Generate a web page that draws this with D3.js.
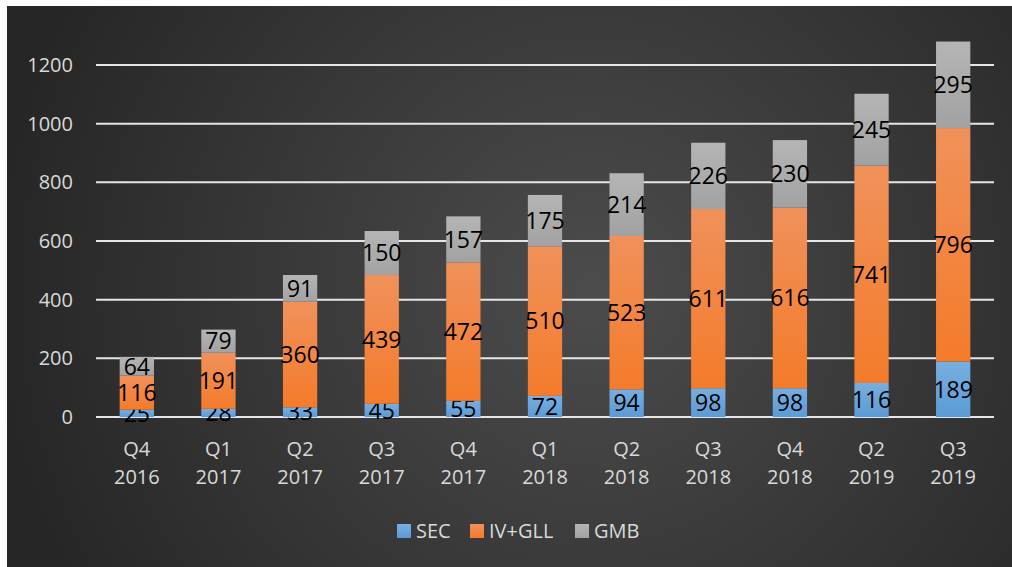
<!DOCTYPE html>
<html>
<head>
<meta charset="utf-8">
<script src="https://cdn.jsdelivr.net/npm/d3@7"></script>
<style>
  html, body { margin: 0; padding: 0; background: #ffffff; }
  #chart { width: 1012px; height: 567px; }
  text { font-family: "Open Sans", "Noto Sans", sans-serif; }
</style>
</head>
<body>
<div id="chart"></div>
<script>
// Quarters and series values
const quarters = ["Q4 2016", "Q1 2017", "Q2 2017", "Q3 2017", "Q4 2017", "Q1 2018",
                  "Q2 2018", "Q3 2018", "Q4 2018", "Q2 2019", "Q3 2019"];
const seriesNames = ["SEC", "IV+GLL", "GMB"];
const secValues = [25, 28, 33, 45, 55, 72, 94, 98, 98, 116, 189];
const ivGllValues = [116, 191, 360, 439, 472, 510, 523, 611, 616, 741, 796];
const gmbValues = [64, 79, 91, 150, 157, 175, 214, 226, 230, 245, 295];
const yTicks = [0, 200, 400, 600, 800, 1000, 1200];

const width = 1012, height = 567;
const margin = { top: 65, right: 18, bottom: 150, left: 96 };
const innerW = 994 - margin.left;
const innerH = 417 - margin.top;

const svg = d3.select("#chart").append("svg")
  .attr("width", width)
  .attr("height", height);

const defs = svg.append("defs");

// fond sombre en dégradé radial
const bg = defs.append("radialGradient")
  .attr("id", "bg")
  .attr("gradientUnits", "userSpaceOnUse")
  .attr("cx", 590).attr("cy", 290).attr("r", 600);
bg.append("stop").attr("offset", "0%").attr("stop-color", "#4c4c4c");
bg.append("stop").attr("offset", "100%").attr("stop-color", "#262626");

svg.append("rect")
  .attr("x", 7).attr("y", 6)
  .attr("width", width - 7).attr("height", height - 6)
  .attr("fill", "url(#bg)");

// dégradés des séries (clair en haut)
const seriesColors = [
  { id: "gSEC", top: "#78aee0", bottom: "#5b9bd5" },
  { id: "gIV", top: "#f0915b", bottom: "#f47b2a" },
  { id: "gGMB", top: "#b5b5b5", bottom: "#a2a2a2" }
];
seriesColors.forEach(c => {
  const g = defs.append("linearGradient")
    .attr("id", c.id)
    .attr("x1", 0).attr("y1", 0).attr("x2", 0).attr("y2", 1);
  g.append("stop").attr("offset", "0%").attr("stop-color", c.top);
  g.append("stop").attr("offset", "100%").attr("stop-color", c.bottom);
});

const chart = svg.append("g")
  .attr("transform", `translate(${margin.left}, ${margin.top})`);

// Data table for the stack
const table = quarters.map((q, i) => ({
  quarter: q,
  "SEC": secValues[i],
  "IV+GLL": ivGllValues[i],
  "GMB": gmbValues[i]
}));
const stacked = d3.stack().keys(seriesNames)(table);

const x = d3.scaleBand()
  .domain(quarters)
  .range([0, innerW])
  .paddingInner(0.58)
  .paddingOuter(0.29);

const y = d3.scaleLinear()
  .domain([0, 1200])
  .range([innerH, 0]);

// gridlines
chart.append("g")
  .selectAll("line")
  .data(yTicks)
  .enter()
  .append("line")
  .attr("x1", 0)
  .attr("x2", innerW)
  .attr("y1", d => y(d))
  .attr("y2", d => y(d))
  .attr("stroke", "#e6e6e6")
  .attr("stroke-width", 2);

// y axis labels
const yAxis = chart.append("g")
  .attr("transform", "translate(-23, 0)")
  .call(d3.axisLeft(y).tickValues(yTicks).tickFormat(d3.format("d")).tickSize(0).tickPadding(0));
yAxis.select(".domain").remove();
yAxis.selectAll("text")
  .attr("fill", "#d9d9d9")
  .style("font-size", "20px")
  .style("font-family", "'Open Sans', sans-serif");

// x axis labels on two lines
const xAxis = chart.append("g")
  .attr("transform", `translate(0, ${innerH})`)
  .call(d3.axisBottom(x).tickSize(0).tickFormat(""));
xAxis.select(".domain").remove();
xAxis.selectAll(".tick").each(function(d) {
  const parts = d.split(" ");
  const t = d3.select(this).append("text")
    .attr("fill", "#d9d9d9")
    .attr("text-anchor", "middle")
    .style("font-size", "20px");
  t.append("tspan").attr("x", 0).attr("y", 39).text(parts[0]);
  t.append("tspan").attr("x", 0).attr("y", 67).text(parts[1]);
});

// bars
const layers = chart.selectAll(".layer")
  .data(stacked)
  .enter()
  .append("g")
  .attr("class", "layer")
  .attr("fill", (d, i) => `url(#${seriesColors[i].id})`);

layers.selectAll("rect")
  .data(d => d)
  .enter()
  .append("rect")
  .attr("x", d => x(d.data.quarter))
  .attr("y", d => y(d[1]))
  .attr("width", x.bandwidth())
  .attr("height", d => y(d[0]) - y(d[1]));

// value labels
layers.selectAll("text")
  .data(d => d.map(v => ({ v, key: d.key })))
  .enter()
  .append("text")
  .attr("x", d => x(d.v.data.quarter) + x.bandwidth() / 2)
  .attr("y", d => (y(d.v[0]) + y(d.v[1])) / 2)
  .attr("dy", "0.36em")
  .attr("text-anchor", "middle")
  .attr("fill", "#000000")
  .style("font-size", "23px")
  .text(d => d.v.data[d.key]);

// legend
const legendX = [397, 470, 575];
const legend = svg.append("g");
seriesNames.forEach((name, i) => {
  legend.append("rect")
    .attr("x", legendX[i]).attr("y", 524)
    .attr("width", 14).attr("height", 14)
    .attr("fill", `url(#${seriesColors[i].id})`);
  legend.append("text")
    .attr("x", legendX[i] + 19).attr("y", 531)
    .attr("dy", "0.36em")
    .attr("fill", "#d9d9d9")
    .style("font-size", "20px")
    .text(name);
});
</script>
</body>
</html>
